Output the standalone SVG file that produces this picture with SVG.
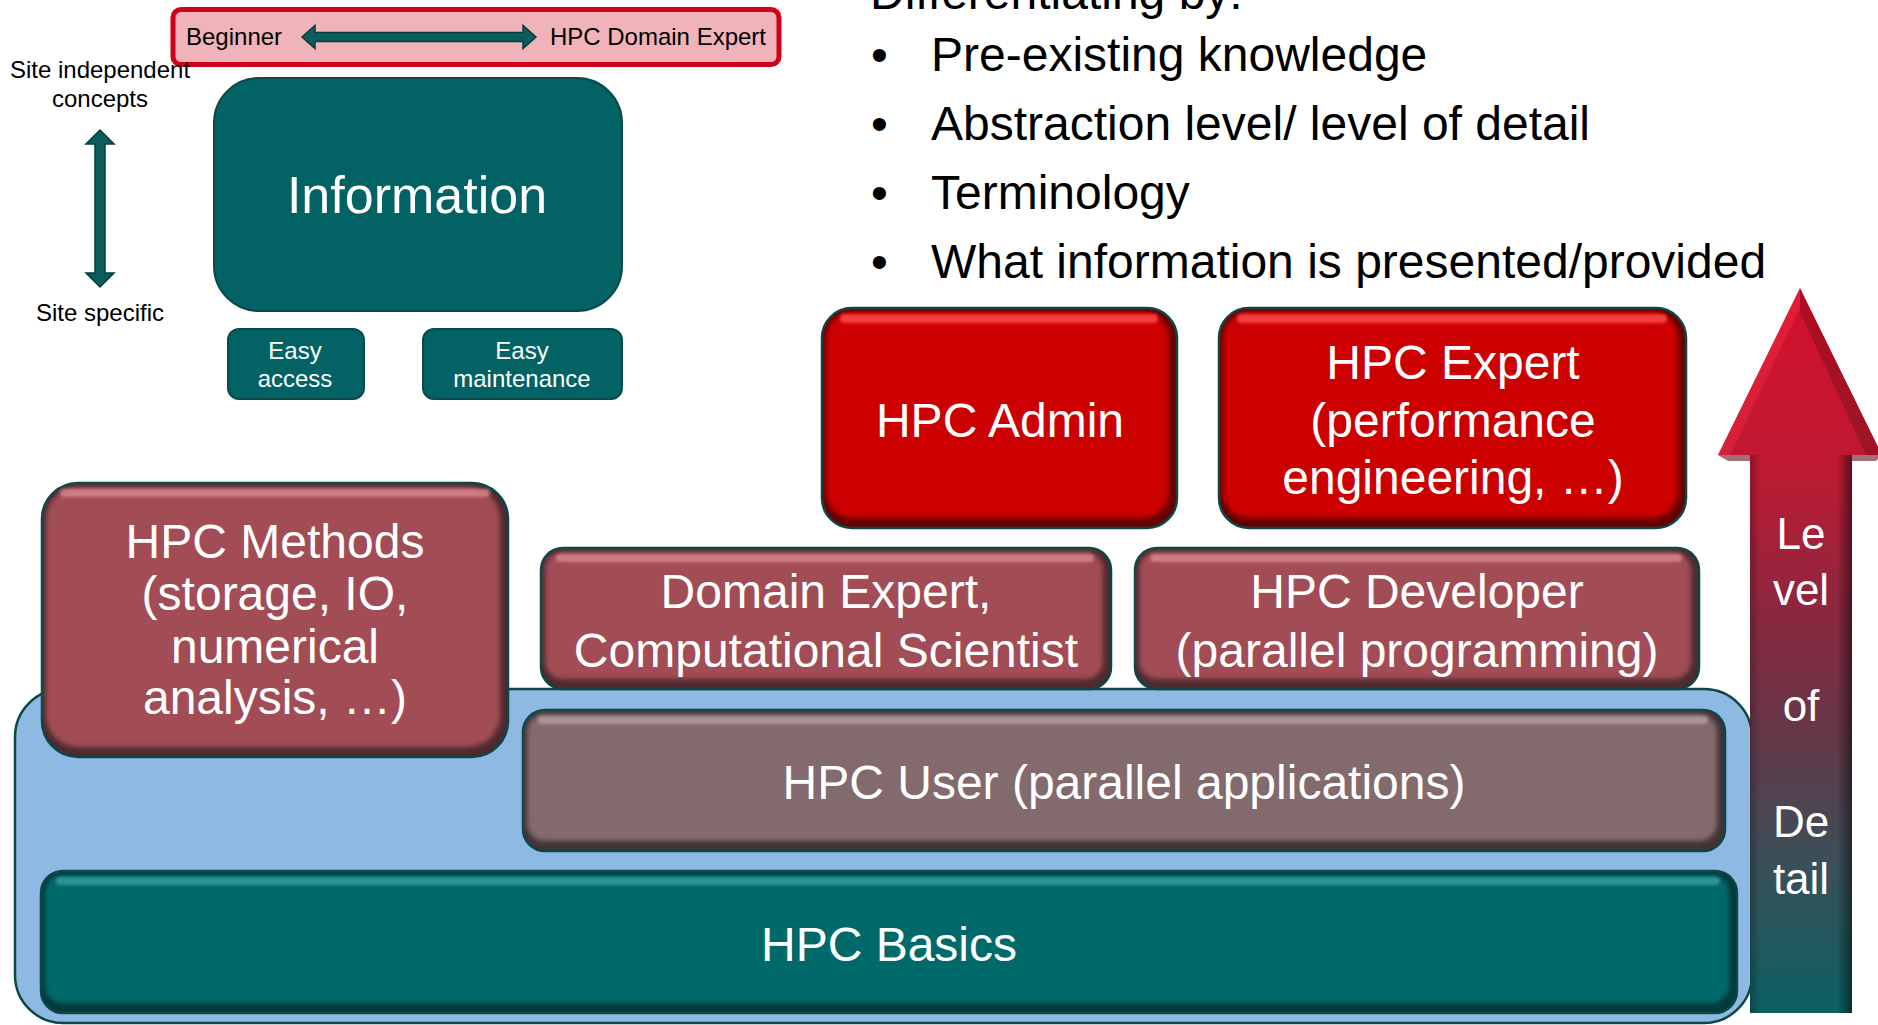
<svg xmlns="http://www.w3.org/2000/svg" width="1878" height="1025" viewBox="0 0 1878 1025">
<defs>
<style>
text{font-family:"Liberation Sans",Arial,sans-serif}
.w48{font-size:48px;fill:#fff;text-anchor:middle}
.w44{font-size:44px;fill:#fff;text-anchor:middle}
.w53{font-size:52px;fill:#fff;text-anchor:middle}
.w24{font-size:24px;fill:#fff;text-anchor:middle}
.k48{font-size:48px;fill:#000}
.k24{font-size:24px;fill:#000}
.mid{text-anchor:middle}
.ol{stroke:#0c4646;stroke-width:2.5}
.red-d{fill:#650000}.red-b{fill:#cc0404}.red-h{fill:#ff4a4a}
.mv-d{fill:#4e2a2f}.mv-b{fill:#a24e57}.mv-h{fill:#d98890}
.us-d{fill:#433234}.us-b{fill:#836a6d}.us-h{fill:#b29ea1}
.tl-d{fill:#033a3b}.tl-b{fill:#056a6b}.tl-h{fill:#3a9fa0}
.teal{fill:#036264;stroke:#0a4a4a;stroke-width:2}
.conn{fill:#0b5c5c;stroke:#073c3c;stroke-width:1.5}
</style>
<filter id="soft" x="-5%" y="-10%" width="110%" height="120%"><feGaussianBlur stdDeviation="2.5"/></filter>
<filter id="soft2" x="-5%" y="-50%" width="110%" height="200%"><feGaussianBlur stdDeviation="1.5"/></filter>
<linearGradient id="lod" gradientUnits="userSpaceOnUse" x1="0" y1="288" x2="0" y2="1013">
<stop offset="0" stop-color="#d4102c"/>
<stop offset="0.25" stop-color="#be1a32"/>
<stop offset="0.45" stop-color="#8a2840"/>
<stop offset="0.62" stop-color="#643848"/>
<stop offset="0.78" stop-color="#3e4e58"/>
<stop offset="1" stop-color="#0b6163"/>
</linearGradient>
<linearGradient id="lodx" x1="0" y1="0" x2="1" y2="0">
<stop offset="0" stop-color="#000" stop-opacity="0.25"/>
<stop offset="0.1" stop-color="#000" stop-opacity="0"/>
<stop offset="0.85" stop-color="#000" stop-opacity="0"/>
<stop offset="1" stop-color="#000" stop-opacity="0.5"/>
</linearGradient>
</defs>
<rect width="1878" height="1025" fill="#fff"/>

<g id="header-text">
<text class="k48" x="870" y="9">Differentiating by:</text>
<text class="k48" x="871" y="71">•</text><text class="k48" x="931" y="71">Pre-existing knowledge</text>
<text class="k48" x="871" y="140">•</text><text class="k48" x="931" y="140">Abstraction level/ level of detail</text>
<text class="k48" x="871" y="209">•</text><text class="k48" x="931" y="209">Terminology</text>
<text class="k48" x="871" y="278">•</text><text class="k48" x="931" y="278">What information is presented/provided</text>
</g>

<g id="range-bar">
<rect x="173" y="9.5" width="606" height="55" rx="8" fill="#f0b3ba" stroke="#d0021b" stroke-width="5"/>
<text class="k24" x="186" y="45">Beginner</text>
<text class="k24" x="766" y="45" text-anchor="end">HPC Domain Expert</text>
</g>

<g id="site-labels">
<text class="k24 mid" x="100" y="78">Site independent</text>
<text class="k24 mid" x="100" y="107">concepts</text>
<text class="k24 mid" x="100" y="321">Site specific</text>
</g>

<g id="information">
<rect class="teal" x="214" y="78" width="408" height="233" rx="45"/>
<text class="w53" x="417" y="213">Information</text>
</g>
<g id="easy-access">
<rect class="teal" x="228" y="329" width="136" height="70" rx="11"/>
<text class="w24" x="295" y="359">Easy</text>
<text class="w24" x="295" y="387">access</text>
</g>
<g id="easy-maintenance">
<rect class="teal" x="423" y="329" width="199" height="70" rx="11"/>
<text class="w24" x="522" y="359">Easy</text>
<text class="w24" x="522" y="387">maintenance</text>
</g>

<g id="background">
<rect x="15" y="689" width="1737" height="334" rx="48" fill="#8db9e3" stroke="#0c4646" stroke-width="2.5"/>
</g>

<g id="hpc-methods">
<rect class="ol mv-d" x="42" y="483" width="466" height="274" rx="36"/>
<rect class="mv-b" x="46" y="487" width="454" height="260" rx="32" filter="url(#soft)"/>
<rect class="mv-h" x="60" y="489" width="430" height="8" rx="4" filter="url(#soft2)" opacity="0.8"/>
<text class="w48" x="275" y="558">HPC Methods</text>
<text class="w48" x="275" y="610">(storage, IO,</text>
<text class="w48" x="275" y="663">numerical</text>
<text class="w48" x="275" y="714">analysis, …)</text>
</g>

<g id="domain-expert">
<rect class="ol mv-d" x="541" y="548" width="570" height="141" rx="22"/>
<rect class="mv-b" x="545" y="552" width="558" height="127" rx="18" filter="url(#soft)"/>
<rect class="mv-h" x="556" y="554" width="538" height="8" rx="4" filter="url(#soft2)" opacity="0.8"/>
<text class="w48" x="826" y="608">Domain Expert,</text>
<text class="w48" x="826" y="667">Computational Scientist</text>
</g>

<g id="hpc-developer">
<rect class="ol mv-d" x="1135" y="548" width="564" height="141" rx="22"/>
<rect class="mv-b" x="1139" y="552" width="552" height="127" rx="18" filter="url(#soft)"/>
<rect class="mv-h" x="1150" y="554" width="532" height="8" rx="4" filter="url(#soft2)" opacity="0.8"/>
<text class="w48" x="1417" y="608">HPC Developer</text>
<text class="w48" x="1417" y="667">(parallel programming)</text>
</g>

<g id="hpc-admin">
<rect class="ol red-d" x="822" y="308" width="355" height="220" rx="30"/>
<rect class="red-b" x="826" y="312" width="343" height="206" rx="26" filter="url(#soft)"/>
<rect class="red-h" x="840" y="314" width="318" height="9" rx="4" filter="url(#soft2)" opacity="0.85"/>
<text class="w48" x="1000" y="437">HPC Admin</text>
</g>

<g id="hpc-expert">
<rect class="ol red-d" x="1219" y="308" width="467" height="220" rx="30"/>
<rect class="red-b" x="1223" y="312" width="455" height="206" rx="26" filter="url(#soft)"/>
<rect class="red-h" x="1237" y="314" width="430" height="9" rx="4" filter="url(#soft2)" opacity="0.85"/>
<text class="w48" x="1453" y="379">HPC Expert</text>
<text class="w48" x="1453" y="437">(performance</text>
<text class="w48" x="1453" y="494">engineering, …)</text>
</g>

<g id="hpc-user">
<rect class="ol us-d" x="523" y="710" width="1202" height="141" rx="22"/>
<rect class="us-b" x="527" y="714" width="1190" height="127" rx="18" filter="url(#soft)"/>
<rect class="us-h" x="538" y="716" width="1170" height="8" rx="4" filter="url(#soft2)" opacity="0.8"/>
<text class="w48" x="1124" y="799">HPC User (parallel applications)</text>
</g>

<g id="hpc-basics">
<rect class="ol tl-d" x="41" y="871" width="1696" height="142" rx="22"/>
<rect class="tl-b" x="45" y="875" width="1684" height="128" rx="18" filter="url(#soft)"/>
<rect class="tl-h" x="56" y="877" width="1664" height="8" rx="4" filter="url(#soft2)" opacity="0.8"/>
<text class="w48" x="889" y="961">HPC Basics</text>
</g>

<g id="level-of-detail">
<polygon points="1800,288 1882,455 1852,455 1852,1013 1750,1013 1750,455 1718,455" fill="url(#lod)"/>
<polygon points="1750,455 1852,455 1852,1013 1750,1013" fill="url(#lodx)"/>
<polygon points="1800,288 1718,455 1730,455 1800,308" fill="#ff3048" opacity="0.35"/>
<polygon points="1800,288 1882,455 1866,455 1800,312" fill="#000" opacity="0.18"/>
<polygon points="1718,455 1750,455 1750,461 1728,461" fill="#6a0c1a" opacity="0.6"/>
<polygon points="1852,455 1882,455 1876,461 1852,461" fill="#6a0c1a" opacity="0.6"/>
<text class="w44" x="1801" y="549">Le</text>
<text class="w44" x="1801" y="605">vel</text>
<text class="w44" x="1801" y="721">of</text>
<text class="w44" x="1801" y="837">De</text>
<text class="w44" x="1801" y="894">tail</text>
</g>

<g id="connectors">
<polygon class="conn" points="302,37 315,25.5 315,32.5 523,32.5 523,25.5 536,37 523,48.5 523,41.5 315,41.5 315,48.5"/>
<polygon class="conn" points="100,130 114,144 105,144 105,273 114,273 100,287 86,273 95,273 95,144 86,144"/>
</g>
</svg>
